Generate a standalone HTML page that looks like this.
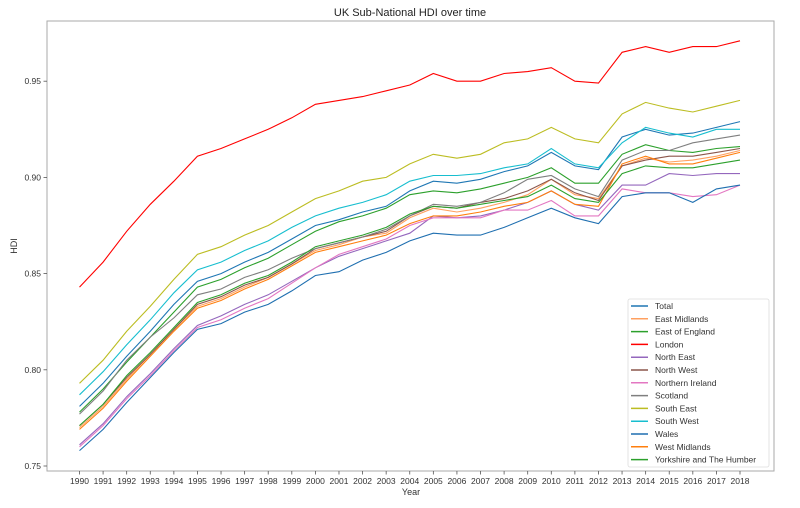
<!DOCTYPE html>
<html><head><meta charset="utf-8"><style>
body{margin:0;background:#fff;}
svg text{font-family:"Liberation Sans","DejaVu Sans",sans-serif;fill:#333;}
</style></head><body>
<svg id="chart" width="800" height="503" xmlns="http://www.w3.org/2000/svg">
<rect width="800" height="503" fill="#fff"/>
<text x="410" y="16" font-size="11" text-anchor="middle" style="fill:#222">UK Sub-National HDI over time</text>
<g id="grid"></g>
<g id="series"></g>
<rect x="47" y="21" width="727" height="450" fill="none" stroke="#aaa" stroke-width="1"/>
<g id="axes"></g>
<text x="17" y="246" font-size="9" text-anchor="middle" transform="rotate(-90 17 246)">HDI</text>
<text x="411" y="495" font-size="9" text-anchor="middle">Year</text>
<g id="legend"></g>
</svg>
<script>
const years=[1990,1991,1992,1993,1994,1995,1996,1997,1998,1999,2000,2001,2002,2003,2004,2005,2006,2007,2008,2009,2010,2011,2012,2013,2014,2015,2016,2017,2018];
const yTicks=[0.75,0.80,0.85,0.90,0.95];
const seriesNames=["Total","East Midlands","East of England","London","North East","North West","Northern Ireland","Scotland","South East","South West","Wales","West Midlands","Yorkshire and The Humber"];
const seriesColors=["#1f77b4","#ffa060","#2ca02c","#ff0000","#9467bd","#8c564b","#e377c2","#7f7f7f","#bcbd22","#17becf","#1f6fb0","#ff7f0e","#2ca02c"];
const total=[0.781,0.793,0.807,0.820,0.834,0.846,0.850,0.856,0.861,0.868,0.875,0.878,0.882,0.885,0.893,0.898,0.897,0.899,0.903,0.906,0.913,0.906,0.904,0.921,0.925,0.922,0.923,0.926,0.929];
const eastMidlands=[0.770,0.781,0.795,0.808,0.821,0.833,0.837,0.843,0.848,0.855,0.862,0.865,0.869,0.871,0.879,0.884,0.882,0.884,0.887,0.891,0.899,0.891,0.889,0.906,0.910,0.908,0.909,0.911,0.914];
const eastOfEngland=[0.778,0.790,0.804,0.817,0.830,0.843,0.847,0.853,0.858,0.865,0.872,0.877,0.880,0.884,0.891,0.893,0.892,0.894,0.897,0.900,0.905,0.897,0.897,0.912,0.917,0.914,0.913,0.915,0.916];
const london=[0.843,0.856,0.872,0.886,0.898,0.911,0.915,0.920,0.925,0.931,0.938,0.940,0.942,0.945,0.948,0.954,0.950,0.950,0.954,0.955,0.957,0.950,0.949,0.965,0.968,0.965,0.968,0.968,0.971];
const northEast=[0.761,0.772,0.786,0.798,0.811,0.823,0.828,0.834,0.839,0.846,0.853,0.859,0.863,0.867,0.871,0.880,0.879,0.880,0.883,0.887,0.893,0.886,0.883,0.896,0.896,0.902,0.901,0.902,0.902];
const northWest=[0.771,0.782,0.796,0.808,0.821,0.834,0.838,0.844,0.848,0.855,0.863,0.866,0.869,0.872,0.880,0.885,0.884,0.887,0.889,0.893,0.899,0.892,0.888,0.906,0.909,0.911,0.911,0.913,0.915];
const northernIreland=[0.760,0.771,0.785,0.797,0.810,0.822,0.826,0.832,0.837,0.845,0.853,0.860,0.864,0.868,0.875,0.879,0.879,0.879,0.883,0.883,0.888,0.880,0.880,0.894,0.892,0.892,0.890,0.891,0.896];
const scotland=[0.777,0.789,0.805,0.817,0.827,0.839,0.842,0.848,0.852,0.858,0.863,0.866,0.869,0.873,0.880,0.886,0.885,0.887,0.892,0.899,0.901,0.894,0.890,0.909,0.914,0.914,0.918,0.920,0.922];
const southEast=[0.793,0.805,0.820,0.833,0.847,0.860,0.864,0.870,0.875,0.882,0.889,0.893,0.898,0.900,0.907,0.912,0.910,0.912,0.918,0.920,0.926,0.920,0.918,0.933,0.939,0.936,0.934,0.937,0.940];
const southWest=[0.787,0.799,0.813,0.826,0.840,0.852,0.856,0.862,0.867,0.874,0.880,0.884,0.887,0.891,0.898,0.901,0.901,0.902,0.905,0.907,0.915,0.907,0.905,0.918,0.926,0.923,0.921,0.925,0.925];
const wales=[0.758,0.769,0.783,0.796,0.809,0.821,0.824,0.830,0.834,0.841,0.849,0.851,0.857,0.861,0.867,0.871,0.870,0.870,0.874,0.879,0.884,0.879,0.876,0.890,0.892,0.892,0.887,0.894,0.896];
const westMidlands=[0.769,0.780,0.794,0.807,0.820,0.832,0.836,0.842,0.847,0.854,0.861,0.864,0.867,0.870,0.876,0.880,0.880,0.882,0.885,0.887,0.893,0.886,0.885,0.907,0.911,0.907,0.907,0.910,0.913];
const yorkshire=[0.771,0.782,0.797,0.809,0.822,0.835,0.839,0.845,0.849,0.856,0.864,0.867,0.870,0.874,0.881,0.885,0.884,0.886,0.888,0.890,0.896,0.889,0.887,0.902,0.906,0.905,0.905,0.907,0.909];
const seriesValues=[total,eastMidlands,eastOfEngland,london,northEast,northWest,northernIreland,scotland,southEast,southWest,wales,westMidlands,yorkshire];

const NS="http://www.w3.org/2000/svg";
function xScale(i){return 79.5+i*(740-79.5)/(years.length-1);}
function yScale(v){return 466-(v-0.75)*1924;}
function mk(tag,attrs,parent){const e=document.createElementNS(NS,tag);for(const k in attrs)e.setAttribute(k,attrs[k]);parent.appendChild(e);return e;}
const axes=document.getElementById('axes');
years.forEach((y,i)=>{
  const x=xScale(i);
  const t=mk('line',{x1:x,x2:x,y1:471,y2:474.5,stroke:'#555','stroke-width':0.8},axes);
  
  
  const l=mk('text',{x:x,y:484,'font-size':8.5,'text-anchor':'middle'},axes);
  l.textContent=y;
  
  
});
yTicks.forEach(v=>{
  const y=yScale(v);
  const t=mk('line',{x1:43.5,x2:47,y1:y,y2:y,stroke:'#555','stroke-width':0.8},axes);
  
  
  const l=mk('text',{x:41,y:y+3,'font-size':8.5,'text-anchor':'end'},axes);
  l.textContent=v.toFixed(2);
  
  
});
const sg=document.getElementById('series');
seriesValues.forEach((vals,si)=>{
  const d=vals.map((v,i)=>(i?'L':'M')+xScale(i).toFixed(1)+' '+yScale(v).toFixed(1)).join(' ');
  const p=mk('path',{d:d,fill:'none',stroke:seriesColors[si],'stroke-width':1.1},sg);
  
  
});
const lg=document.getElementById('legend');
const box=mk('rect',{x:628,y:299,width:141,height:168,rx:2,fill:'#fff','fill-opacity':0.85,stroke:'#ddd','stroke-width':0.8},lg);


seriesNames.forEach((n,i)=>{
  const y=306+i*12.8;
  const l=mk('line',{x1:631,x2:648,y1:y,y2:y,stroke:seriesColors[i],'stroke-width':1.5},lg);
  
  
  const t=mk('text',{x:655,y:y+3,'font-size':8.5},lg);
  t.textContent=n;
  
  
});
</script>
</body></html>
